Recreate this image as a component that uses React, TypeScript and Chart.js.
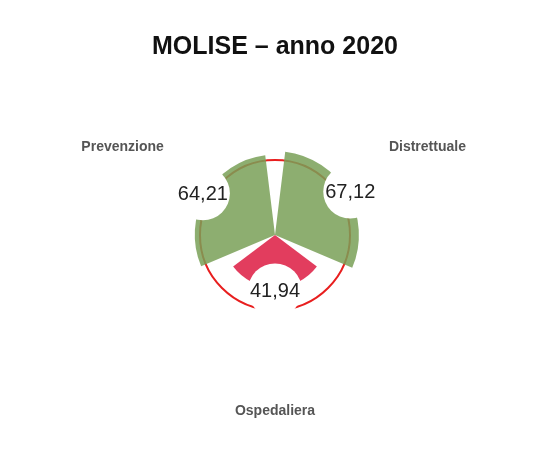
import React, { useEffect, useRef } from 'react';
import { Chart, registerables } from 'chart.js';

Chart.register(...registerables);

// ---- data ----
const TITLE = 'MOLISE – anno 2020';
const categories = ['Prevenzione', 'Distrettuale', 'Ospedaliera'];
const values = [64.21, 67.12, 41.94];
const threshold = 60;
const scaleMax = 100;
const tickStep = 20;

// ---- styles ----
const segmentColors = ['rgba(121,160,87,0.85)', 'rgba(121,160,87,0.85)', 'rgb(226,61,94)'];
const segmentAngle = 106; // degrees of each sector
const gapAngle = 14; // degrees of the gap after each sector
const startAngle = -113;

const fmt = (v: number) => v.toFixed(2).replace('.', ',');

const labelsPlugin = {
  id: 'customLabels',
  afterDatasetsDraw(chart: any) {
    const meta = chart.getDatasetMeta(0);
    const scale = chart.scales.r;
    const ctx = chart.ctx;
    ctx.save();
    categories.forEach((cat, k) => {
      const arc = meta.data[2 * k];
      if (!arc) return;
      const p = arc.getProps(['x', 'y', 'startAngle', 'endAngle', 'outerRadius'], true);
      const mid = (p.startAngle + p.endAngle) / 2;
      // value label with white round background
      const r = p.outerRadius + 3;
      const lx = p.x + Math.cos(mid) * r;
      const ly = p.y + Math.sin(mid) * r;
      ctx.beginPath();
      ctx.arc(lx, ly, 27, 0, Math.PI * 2);
      ctx.fillStyle = '#ffffff';
      ctx.fill();
      ctx.font = '20px "Liberation Sans", Arial, sans-serif';
      ctx.fillStyle = '#222222';
      ctx.textAlign = 'center';
      ctx.textBaseline = 'middle';
      ctx.fillText(fmt(values[k]), lx, ly + 1);
      // category label
      const d = scale.drawingArea + 51;
      ctx.font = 'bold 14px "Liberation Sans", Arial, sans-serif';
      ctx.fillStyle = '#555555';
      ctx.fillText(cat, p.x + Math.cos(mid) * d, p.y + Math.sin(mid) * d);
    });
    ctx.restore();
  },
};

export default function App() {
  const canvasRef = useRef<HTMLCanvasElement | null>(null);

  useEffect(() => {
    if (!canvasRef.current) return;
    const labels = categories.flatMap((c) => [c, '']);
    const data = values.flatMap((v) => [v, 0]);
    const angles = values.flatMap(() => [segmentAngle, gapAngle]);
    const colors = segmentColors.flatMap((c) => [c, 'rgba(0,0,0,0)']);

    const chart = new Chart(canvasRef.current, {
      type: 'polarArea',
      data: {
        labels,
        datasets: [
          {
            data,
            backgroundColor: colors,
            borderWidth: 0,
            angle: angles,
          } as any,
        ],
      },
      options: {
        animation: false,
        responsive: true,
        maintainAspectRatio: false,
        layout: { padding: { left: 8, right: 0, top: 0, bottom: 89 } },
        plugins: {
          legend: { display: false },
          tooltip: { enabled: false },
          title: {
            display: true,
            text: TITLE,
            color: '#111111',
            font: { family: '"Liberation Sans", Arial, sans-serif', size: 25, weight: 'bold' },
            padding: { top: 24, bottom: 48 },
          },
        },
        scales: {
          r: {
            min: 0,
            max: scaleMax,
            startAngle,
            ticks: { display: false, stepSize: tickStep },
            pointLabels: { display: false },
            angleLines: { display: false },
            grid: {
              circular: true,
              lineWidth: 2,
              color: (c: any) => (c.tick && c.tick.value === threshold ? 'rgb(232,30,30)' : 'rgba(0,0,0,0)'),
            },
          },
        },
      },
      plugins: [labelsPlugin],
    });
    return () => chart.destroy();
  }, []);

  return (
    <div style={{ position: 'relative', width: 526, height: 441 }}>
      <canvas ref={canvasRef} />
    </div>
  );
}
